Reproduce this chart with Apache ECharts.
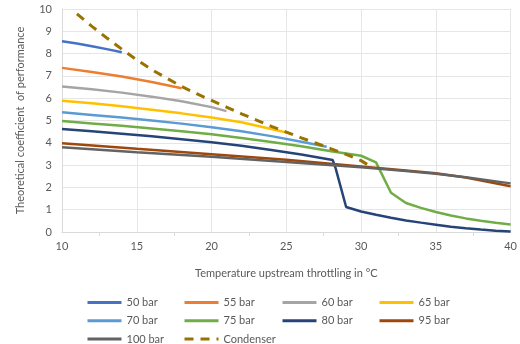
<!DOCTYPE html>
<html>
<head>
<meta charset="utf-8">
<script src="https://cdn.jsdelivr.net/npm/echarts@6/dist/echarts.min.js"></script>
<style>
  html, body { margin: 0; padding: 0; background: #fff; }
  #cop-chart { width: 520px; height: 344px; }
</style>
</head>
<body>
<div id="cop-chart"></div>
<script>
// [temperature °C, COP]
var bar50 = [[10, 8.55], [11, 8.45], [12, 8.33], [13, 8.2], [14, 8.06]];
var bar55 = [[10, 7.36], [12, 7.17], [14, 6.97], [16, 6.73], [18, 6.45]];
var bar60 = [[10, 6.52], [12, 6.4], [14, 6.25], [16, 6.07], [18, 5.86], [20, 5.6], [21, 5.42]];
var bar65 = [[10, 5.89], [12, 5.77], [14, 5.64], [16, 5.48], [18, 5.32], [20, 5.13], [22, 4.92], [24, 4.62], [25.3, 4.42]];
var bar70 = [[10, 5.37], [12, 5.25], [14, 5.13], [16, 5.0], [18, 4.86], [20, 4.7], [22, 4.52], [24, 4.3], [26, 4.05], [27.7, 3.82]];
var bar75 = [[10, 4.98], [12, 4.87], [14, 4.76], [16, 4.64], [18, 4.52], [20, 4.38], [22, 4.22], [24, 4.04], [26, 3.85],
  [28, 3.62], [29, 3.52], [30, 3.42], [31, 3.12], [32, 1.76], [33, 1.3], [34, 1.08], [35, 0.9], [36, 0.74],
  [37, 0.61], [38, 0.5], [39, 0.41], [40, 0.34]];
var bar80 = [[10, 4.62], [12, 4.52], [14, 4.41], [16, 4.29], [18, 4.16], [20, 4.02], [22, 3.87], [24, 3.68], [26, 3.48],
  [28.1, 3.23], [28.3, 2.85], [29, 1.12], [30, 0.92], [31, 0.77], [32, 0.64], [33, 0.52], [34, 0.42], [35, 0.33],
  [36, 0.24], [37, 0.17], [38, 0.11], [39, 0.06], [40, 0.02]];
var bar95 = [[10, 3.98], [15, 3.73], [20, 3.49], [25, 3.24], [30, 2.94], [33, 2.76], [35, 2.63], [37, 2.44], [40, 2.05]];
var bar100 = [[10, 3.8], [15, 3.58], [20, 3.37], [25, 3.14], [30, 2.9], [33, 2.74], [35, 2.61], [37, 2.46], [40, 2.18]];
var condenser = [[11, 9.78], [12, 9.22], [13, 8.7], [14, 8.2], [15, 7.72], [16, 7.28], [17, 6.9], [18, 6.53], [19, 6.2],
  [20, 5.9], [21, 5.6], [22, 5.3], [23, 5.02], [24, 4.74], [25, 4.48], [26, 4.22], [27, 3.98], [28, 3.73],
  [29, 3.48], [30, 3.2], [30.6, 2.95]];

var seriesNames = ["50 bar", "55 bar", "60 bar", "65 bar", "70 bar", "75 bar", "80 bar", "95 bar", "100 bar", "Condenser"];
var seriesData = [bar50, bar55, bar60, bar65, bar70, bar75, bar80, bar95, bar100, condenser];
var colors = ["#4472C4", "#ED7D31", "#A5A5A5", "#FFC000", "#5B9BD5", "#70AD47", "#264478", "#9E480E", "#636363", "#997300"];

var font = "Lato, 'Open Sans', sans-serif";
var textColor = "#595959";

var series = [];
for (let i = 0; i < seriesNames.length; i++) {
  let dashed = seriesNames[i] == "Condenser";
  series.push({
    name: seriesNames[i],
    type: "line",
    data: seriesData[i],
    symbol: "none",
    z: dashed ? 5 : 2,
    lineStyle: {
      color: colors[i],
      width: dashed ? 3 : 2.5,
      type: dashed ? [9, 7] : "solid"
    },
    itemStyle: { color: colors[i] }
  });
}

// legend is laid out in 4 columns like the original
function legendColumn(left, names) {
  return {
    orient: "vertical",
    left: left,
    top: 292,
    height: 70,
    itemWidth: 34,
    itemHeight: 14,
    itemGap: 7,
    data: names,
    itemStyle: { opacity: 0 },
    lineStyle: { width: 3 },
    textStyle: { color: textColor, fontSize: 11, fontFamily: font }
  };
}

var option = {
  animation: false,
  color: colors,
  textStyle: { fontFamily: font },
  grid: { left: 62, right: 2, top: 9, bottom: 112 },
  legend: [
    legendColumn(81, ["50 bar", "70 bar", "100 bar"]),
    legendColumn(178, ["55 bar", "75 bar", "Condenser"]),
    legendColumn(276, ["60 bar", "80 bar"]),
    legendColumn(373, ["65 bar", "95 bar"])
  ],
  xAxis: {
    type: "value",
    min: 10,
    max: 40,
    interval: 5,
    name: "Temperature upstream throttling in °C",
    nameLocation: "middle",
    nameGap: 36,
    nameTextStyle: { color: textColor, fontSize: 11, fontFamily: font },
    axisLine: { show: true, lineStyle: { color: "#d9d9d9" } },
    axisTick: { show: false },
    minorTick: { show: true, splitNumber: 2, length: 4, lineStyle: { color: "#d9d9d9" } },
    axisLabel: { color: textColor, fontSize: 11, margin: 9, fontFamily: font },
    splitLine: { show: true, lineStyle: { color: "#e6e6e6" } }
  },
  yAxis: {
    type: "value",
    min: 0,
    max: 10,
    interval: 1,
    name: "Theoretical coefficient  of performance",
    nameLocation: "middle",
    nameRotate: 90,
    nameGap: 36,
    nameTextStyle: { color: textColor, fontSize: 11, fontFamily: font },
    axisLine: { show: true, lineStyle: { color: "#d9d9d9" } },
    axisTick: { show: false },
    axisLabel: { color: textColor, fontSize: 11, margin: 10, fontFamily: font },
    splitLine: { show: true, lineStyle: { color: "#e6e6e6" } }
  },
  series: series
};

var chart = echarts.init(document.getElementById("cop-chart"));
chart.setOption(option);
</script>
</body>
</html>
